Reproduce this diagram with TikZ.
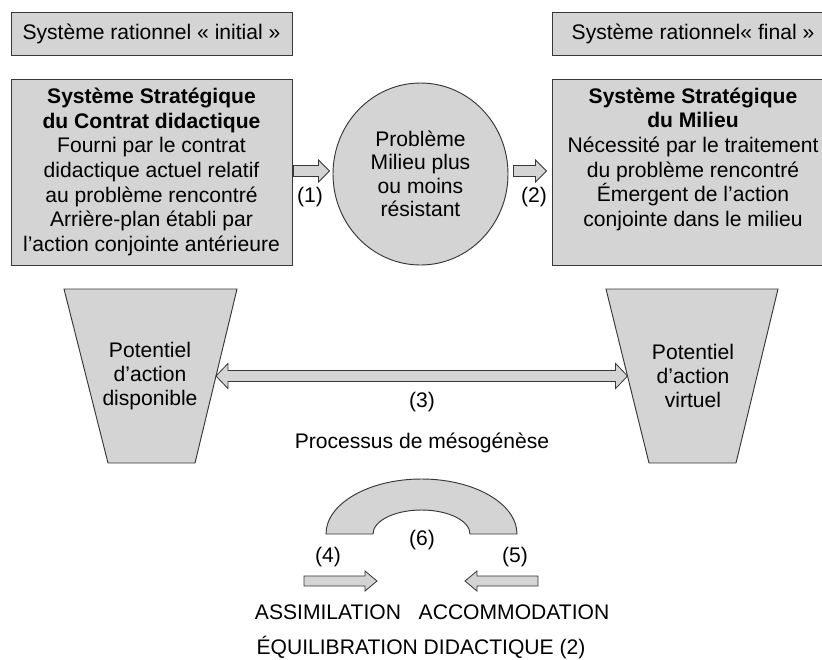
\documentclass[tikz,border=0pt]{standalone}
\usepackage{fontspec}
\setmainfont{Liberation Sans}
\usetikzlibrary{calc}
\usetikzlibrary{shapes.geometric}

\definecolor{BoxGray}{RGB}{212,212,212}
\definecolor{LineGray}{RGB}{55,55,55}

% block arrow: shaft half width, head half width, head length, from, to
\newcommand{\fatarrow}[5]{%
  \coordinate (fab) at ($(#5)!#3!(#4)$);
  \filldraw[fat] ($(#4)!#1!90:(#5)$) -- ($(fab)!#1!90:(#5)$) -- ($(fab)!#2!90:(#5)$) -- (#5)
    -- ($(fab)!#2!-90:(#5)$) -- ($(fab)!#1!-90:(#5)$) -- ($(#4)!#1!-90:(#5)$) -- cycle;}
% same with two heads
\newcommand{\fatdarrow}[5]{%
  \coordinate (fa1) at ($(#4)!#3!(#5)$);
  \coordinate (fa2) at ($(#5)!#3!(#4)$);
  \filldraw[fat] (#4) -- ($(fa1)!#2!90:(#5)$) -- ($(fa1)!#1!90:(#5)$) -- ($(fa2)!#1!90:(#5)$)
    -- ($(fa2)!#2!90:(#5)$) -- (#5) -- ($(fa2)!#2!-90:(#5)$) -- ($(fa2)!#1!-90:(#5)$)
    -- ($(fa1)!#1!-90:(#5)$) -- ($(fa1)!#2!-90:(#5)$) -- cycle;}

\begin{document}
\begin{tikzpicture}[x=0.3mm,y=-0.3mm,
  font=\fontsize{18}{21}\selectfont,
  grayfill/.style={draw=LineGray, fill=BoxGray, line width=0.8pt},
  sysbox/.style={grayfill, inner sep=0pt, align=center},
  fat/.style={draw=LineGray, fill=BoxGray, line width=0.7pt, line join=miter}]
\useasboundingbox (0,0) rectangle (822,659);

% top row
\node[sysbox, minimum width=84.3mm, minimum height=12.9mm] (rinit) at (151.5,33.5) {Système rationnel « initial »};
\node[sysbox, minimum width=84.6mm, minimum height=12.9mm] (rfinal) at (693,33.5) {Système rationnel« final »};

% strategic systems
\node[sysbox, minimum width=84.3mm, minimum height=55.8mm] (ssc) at (151.5,172) {\textbf{Système Stratégique}\\\textbf{du Contrat didactique}\\Fourni par le contrat\\didactique actuel relatif\\au problème rencontré\\Arrière-plan établi par\\l’action conjointe antérieure};
\node[sysbox, minimum width=84.6mm, minimum height=55.8mm] (ssm) at (693,172) {};
\node[anchor=north, inner sep=0pt, align=center] (ssmtext) at ($(ssm.north)+(0,9)$) {\textbf{Système Stratégique}\\\textbf{du Milieu}\\Nécessité par le traitement\\du problème rencontré\\Émergent de l’action\\conjointe dans le milieu};

\node[ellipse, sysbox, minimum width=52.5mm, minimum height=54.6mm, font=\fontsize{18}{20}\selectfont] (milieu) at (420.5,174) {Problème\\Milieu plus\\ou moins\\résistant};

\coordinate (a1s) at ($(ssc.east)+(1,-1)$);
\coordinate (a1e) at ($(milieu.west)+(-3,-3)$);
\coordinate (a2s) at ($(milieu.east)+(5,-3)$);
\coordinate (a2e) at ($(ssm.west)+(-5,-1)$);
\fatarrow{4.7pt}{9.4pt}{9.4pt}{a1s}{a1e}
\fatarrow{4.7pt}{9.4pt}{9.4pt}{a2s}{a2e}
\node (n1) at (310,197) {(1)};
\node (n2) at (534,197) {(2)};

% potentials
\coordinate (dtl) at (64,289);
\coordinate (dtr) at (237,289);
\coordinate (dbr) at (195,463);
\coordinate (dbl) at (108,463);
\filldraw[grayfill] (dtl) -- (dtr) -- (dbr) -- (dbl) -- cycle;
\node[align=center, font=\fontsize{18}{20.5}\selectfont] (dispo) at (150,376) {Potentiel\\d’action\\disponible};

\coordinate (vtl) at (606,289);
\coordinate (vtr) at (778,289);
\coordinate (vbr) at (736,463);
\coordinate (vbl) at (649,463);
\filldraw[grayfill] (vtl) -- (vtr) -- (vbr) -- (vbl) -- cycle;
\node[align=center, font=\fontsize{18}{20.5}\selectfont] (virtuel) at (693,376) {Potentiel\\d’action\\virtuel};

\coordinate (dispo-e) at ($(dtr)!0.5!(dbr)$);
\coordinate (virt-w) at ($(vtl)!0.5!(vbl)$);
\fatdarrow{4.7pt}{10.7pt}{10.2pt}{dispo-e}{virt-w}
\node (n3) at (422,402) {(3)};
\node (meso) at (422,443) {Processus de mésogénèse};

% equilibration
\filldraw[grayfill] (326,534) arc[start angle=180, end angle=360, x radius=95.5, y radius=55]
  -- (470,534) arc[start angle=0, end angle=-180, x radius=48.5, y radius=24] -- cycle;
\node (n6) at (422,540) {(6)};
\node (n4) at (328,557) {(4)};
\node (n5) at (515,557) {(5)};

\coordinate (a4s) at (304,581);
\coordinate (a4e) at (377,581);
\coordinate (a5s) at (538,581);
\coordinate (a5e) at (465,581);
\fatarrow{4.3pt}{8.5pt}{10.2pt}{a4s}{a4e}
\fatarrow{4.3pt}{8.5pt}{10.2pt}{a5s}{a5e}

\node (assim) at (328,612) {ASSIMILATION};
\node (accom) at (514,612) {ACCOMMODATION};
\node (equil) at (421,648) {ÉQUILIBRATION DIDACTIQUE (2)};

\end{tikzpicture}
\end{document}
